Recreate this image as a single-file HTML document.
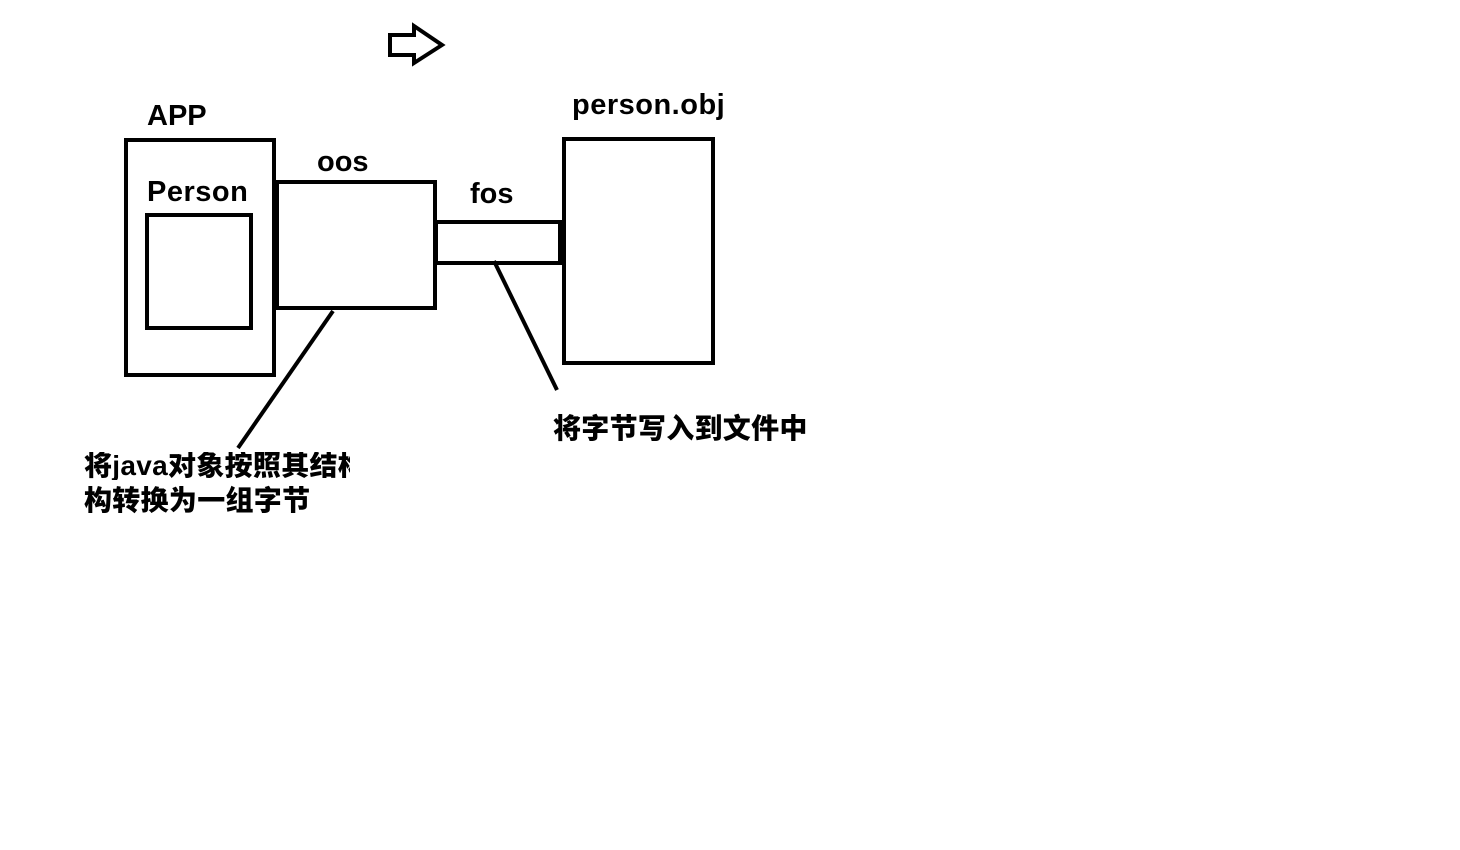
<!DOCTYPE html>
<html><head><meta charset="utf-8"><style>
html,body{margin:0;padding:0;background:#fff;}
body{width:1460px;height:850px;position:relative;overflow:hidden;}
.t{position:absolute;font-family:"Liberation Sans","Noto Sans CJK SC",sans-serif;font-weight:bold;color:#000;white-space:nowrap;line-height:1;}
.c{font-size:28px;letter-spacing:0.3px;font-weight:900;}
</style></head><body>
<svg width="1460" height="850" style="position:absolute;left:0;top:0">
<g fill="none" stroke="#000" stroke-width="4">
<rect x="126" y="140" width="148" height="235"/>
<rect x="147" y="215" width="104" height="113"/>
<rect x="277" y="182" width="158" height="126"/>
<rect x="436" y="222" width="125" height="41"/>
<rect x="564" y="139" width="149" height="224"/>
<polygon points="390,35 414,35 414,26 442,45 414,63 414,55 390,55" stroke-width="4" stroke-linejoin="miter"/>
<line x1="333" y1="311" x2="238" y2="448" stroke-width="4"/>
<line x1="494" y1="261" x2="557" y2="390" stroke-width="4"/>
</g>
<rect x="558" y="222" width="6" height="41" fill="#000"/>
</svg>
<div class="t" style="left:147px;top:102px;font-size:29px;">APP</div>
<div class="t" style="left:317px;top:148px;font-size:29px;">oos</div>
<div class="t" style="left:147px;top:178px;font-size:29px;letter-spacing:0.5px;">Person</div>
<div class="t" style="left:470px;top:180px;font-size:29px;">fos</div>
<div class="t" style="left:572px;top:91px;font-size:29px;letter-spacing:0.5px;">person.obj</div>
<div class="t c" style="left:84px;top:452px;width:266px;overflow:hidden;">将java对象按照其结构</div>
<div class="t c" style="left:84px;top:487px;">构转换为一组字节</div>
<div class="t c" style="left:553px;top:415px;">将字节写入到文件中</div>
</body></html>
